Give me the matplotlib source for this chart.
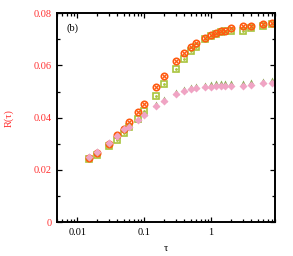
import numpy as np
import matplotlib.pyplot as plt
from matplotlib.ticker import LogLocator, MultipleLocator, FixedLocator

plt.rcParams['font.family'] = ['Liberation Serif', 'DejaVu Serif']

tau = [0.015, 0.02, 0.03, 0.04, 0.05, 0.06, 0.08, 0.1, 0.15, 0.2, 0.3, 0.4,
       0.5, 0.6, 0.8, 1, 1.2, 1.4, 1.6, 2, 3, 4, 6, 8]
r_circ = [0.0245, 0.0265, 0.0300, 0.0332, 0.0357, 0.0382, 0.0421, 0.0454,
          0.0517, 0.0560, 0.0615, 0.0649, 0.0672, 0.0685, 0.0704, 0.0717,
          0.0723, 0.0730, 0.0733, 0.0741, 0.0749, 0.0751, 0.0759, 0.0762]
r_sq = [0.0241, 0.0258, 0.0290, 0.0315, 0.0340, 0.0366, 0.0395, 0.0426,
        0.0484, 0.0528, 0.0586, 0.0624, 0.0656, 0.0672, 0.0700, 0.0713,
        0.0721, 0.0726, 0.0730, 0.0732, 0.0733, 0.0742, 0.0751, 0.0758]
r_tri = [0.0254, 0.0273, 0.0306, 0.0334, 0.0362, 0.0371, 0.0395, 0.0416,
         0.0451, 0.0472, 0.0499, 0.0511, 0.0518, 0.0522, 0.0526, 0.0528,
         0.0531, 0.0531, 0.0532, 0.0532, 0.0531, 0.0535, 0.0542, 0.0544]
r_dia = [0.0251, 0.0270, 0.0302, 0.0330, 0.0358, 0.0366, 0.0390, 0.0410,
         0.0445, 0.0465, 0.0491, 0.0503, 0.0509, 0.0513, 0.0517, 0.0519,
         0.0522, 0.0522, 0.0523, 0.0523, 0.0522, 0.0525, 0.0532, 0.0532]

orange = '#ff5a10'
lime = '#a8c43c'
olive = '#84a850'
pink = '#f0a4c4'
red = '#ff3030'

fig = plt.figure(figsize=(2.93, 2.56), dpi=100)
ax = fig.add_axes([0.1945, 0.1316, 0.7441, 0.8174])

ax.plot(tau, r_sq, 's', ms=4.4, mfc='none', mec=lime, mew=1.2, ls='none')
ax.plot(tau, r_sq, '.', ms=2, color=lime, ls='none')
ax.plot(tau, r_circ, 'o', ms=4.6, mfc='none', mec=orange, mew=1.2, ls='none')
ax.plot(tau, r_circ, 'x', ms=2.2, mec=orange, mew=0.9, ls='none')
ax.plot(tau, r_tri, '^', ms=4.6, color=olive, mec='none', ls='none')
ax.plot(tau, r_dia, 'D', ms=4.2, color=pink, mec='none', ls='none')

ax.set_xscale('log')
ax.set_xlim(0.005, 9)
ax.set_ylim(0, 0.08)
ax.xaxis.set_major_locator(FixedLocator([0.01, 0.1, 1]))
ax.xaxis.set_minor_locator(LogLocator(base=10, subs=np.arange(2, 10)))
ax.set_xticklabels(['0.01', '0.1', '1'])
ax.set_yticks([0, 0.02, 0.04, 0.06, 0.08])
ax.set_yticklabels(['0', '0.02', '0.04', '0.06', '0.08'])
ax.yaxis.set_minor_locator(MultipleLocator(0.01))

ax.tick_params(which='both', direction='in', top=True, right=True,
               labelsize=7.5, width=0.9, pad=4)
ax.tick_params(which='major', length=3.5)
ax.tick_params(which='minor', length=2)
for lab in ax.get_yticklabels():
    lab.set_color(red)
for s in ax.spines.values():
    s.set_linewidth(1.4)

ax.set_xlabel('τ', fontsize=7.5, labelpad=5)
ax.set_ylabel('R(τ)', fontsize=7.5, color=red, labelpad=14)
ax.text(0.045, 0.93, '(b)', transform=ax.transAxes, fontsize=7.5,
        ha='left', va='center')

fig.savefig('out.png', dpi=100)
